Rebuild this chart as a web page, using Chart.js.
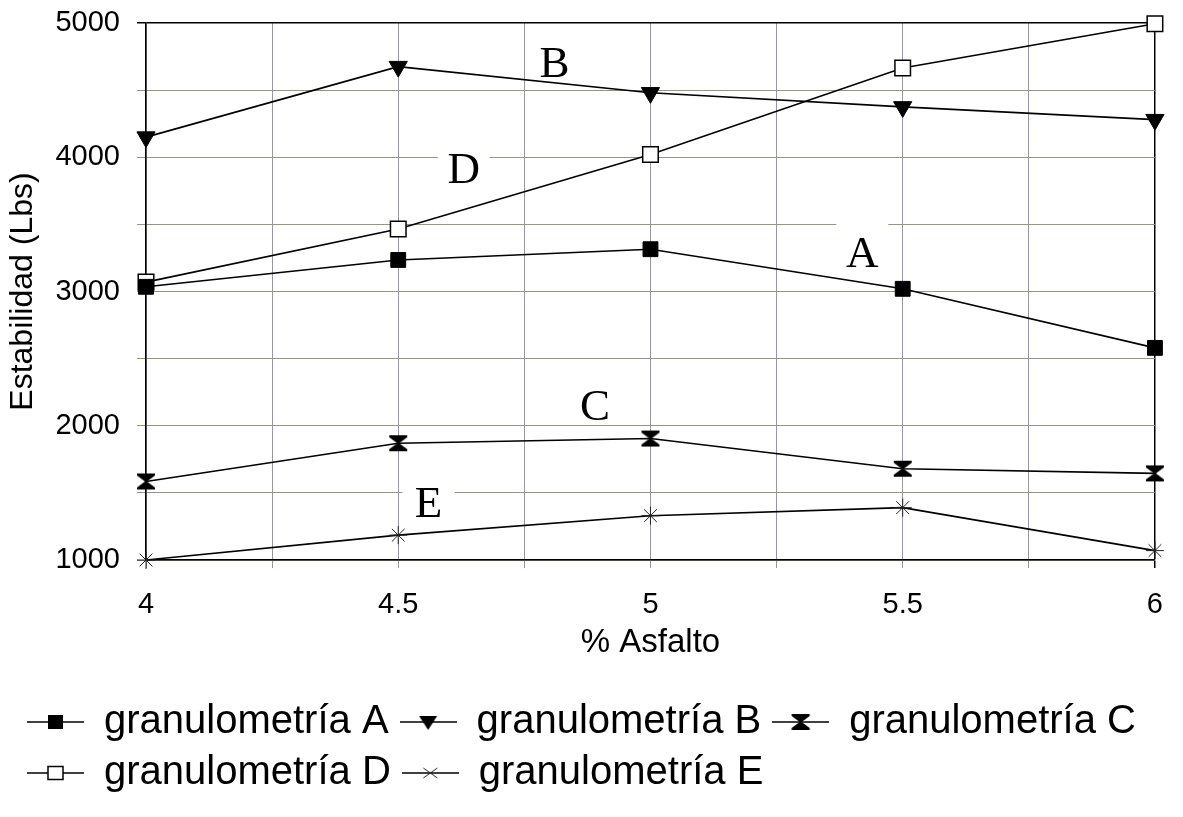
<!DOCTYPE html>
<html>
<head>
<meta charset="utf-8">
<script src="https://cdn.jsdelivr.net/npm/chart.js@4.4.1/dist/chart.umd.min.js"></script>
<style>
  body { margin: 0; background: #fff; }
  #wrap { width: 1183px; height: 817px; }
</style>
</head>
<body>
<div id="wrap"><canvas id="chart" width="1183" height="817"></canvas></div>
<script>
// % asfalto on the x axis
const asfalto = [4, 4.5, 5, 5.5, 6];

// stability (Lbs) per gradation
const granA = [3035, 3235, 3315, 3020, 2580];
const granB = [4150, 4675, 4480, 4375, 4280];
const granC = [1585, 1870, 1905, 1680, 1645];
const granD = [3070, 3465, 4020, 4665, 4995];
const granE = [1000, 1185, 1330, 1390, 1070];

const seriesNames = ['granulometría A', 'granulometría B', 'granulometría C', 'granulometría D', 'granulometría E'];

// letters written next to each curve (data units)
const curveNames = ['A', 'B', 'C', 'D', 'E'];
const nameX = [5.42, 4.81, 4.89, 4.63, 4.56];
const nameY = [3180, 4600, 2045, 3810, 1320];

const sans = '"Liberation Sans", Arial, sans-serif';

// marker shapes, drawn on a small canvas context
function drawMarker(ctx, kind, cx, cy) {
    ctx.fillStyle = '#000';
    ctx.strokeStyle = '#000';
    ctx.lineWidth = 1.5;
    if (kind === 'A') {
        ctx.fillRect(cx - 7.5, cy - 7, 15, 14);
    } else if (kind === 'B') {
        ctx.beginPath();
        ctx.moveTo(cx - 9, cy - 6);
        ctx.lineTo(cx + 9, cy - 6);
        ctx.lineTo(cx, cy + 8);
        ctx.closePath();
        ctx.fill();
    } else if (kind === 'C') {
        ctx.beginPath();
        ctx.moveTo(cx - 9, cy - 8);
        ctx.lineTo(cx + 9, cy - 8);
        ctx.lineTo(cx + 9, cy - 6);
        ctx.lineTo(cx + 1, cy);
        ctx.lineTo(cx + 9, cy + 6);
        ctx.lineTo(cx + 9, cy + 8);
        ctx.lineTo(cx - 9, cy + 8);
        ctx.lineTo(cx - 9, cy + 6);
        ctx.lineTo(cx - 1, cy);
        ctx.lineTo(cx - 9, cy - 6);
        ctx.closePath();
        ctx.fill();
    } else if (kind === 'D') {
        ctx.fillStyle = '#fff';
        ctx.fillRect(cx - 7.5, cy - 6.5, 15, 13);
        ctx.strokeRect(cx - 7.5, cy - 6.5, 15, 13);
    } else if (kind === 'E') {
        ctx.lineWidth = 1;
        ctx.strokeStyle = '#222';
        ctx.beginPath();
        ctx.moveTo(cx - 7, cy - 5); ctx.lineTo(cx + 7, cy + 5);
        ctx.moveTo(cx + 7, cy - 5); ctx.lineTo(cx - 7, cy + 5);
        ctx.stroke();
    }
}

function hourglass() {
    const c = document.createElement('canvas');
    c.width = 20;
    c.height = 18;
    drawMarker(c.getContext('2d'), 'C', 10, 9);
    return c;
}

function legendIcon(kind) {
    const c = document.createElement('canvas');
    c.width = 57;
    c.height = 22;
    const g = c.getContext('2d');
    g.strokeStyle = '#000';
    g.lineWidth = 1.6;
    g.beginPath();
    g.moveTo(0, 11);
    g.lineTo(57, 11);
    g.stroke();
    drawMarker(g, kind, 28.5, 11);
    return c;
}

const legendIcons = curveNames.map(legendIcon);

function toPoints(values) {
    return values.map((v, i) => ({ x: asfalto[i], y: v }));
}

const baseSet = {
    borderColor: '#000',
    borderWidth: 1.6,
    pointBorderColor: '#000',
    pointBackgroundColor: '#000',
    pointBorderWidth: 1,
    fill: false,
    tension: 0,
    clip: false
};

const curveLabels = {
    id: 'curveLabels',
    beforeDatasetsDraw(chart) {
        const { ctx, scales: { x, y } } = chart;
        ctx.save();
        ctx.font = '45px "Liberation Serif", "Times New Roman", serif';
        ctx.textAlign = 'center';
        ctx.textBaseline = 'alphabetic';
        curveNames.forEach((name, i) => {
            const px = x.getPixelForValue(nameX[i]);
            const py = y.getPixelForValue(nameY[i]);
            ctx.fillStyle = '#fff';
            ctx.fillRect(px - 26, py - 46, 52, 50);
            ctx.fillStyle = '#000';
            ctx.fillText(name, px, py);
        });
        ctx.restore();
    }
};

const ctx = document.getElementById('chart').getContext('2d');

new Chart(ctx, {
    type: 'line',
    data: {
        datasets: [
            { ...baseSet, label: seriesNames[0], data: toPoints(granA), pointStyle: 'rect', pointRadius: 10.5 },
            { ...baseSet, label: seriesNames[1], data: toPoints(granB), pointStyle: 'triangle', pointRotation: 180, pointRadius: 10.5 },
            { ...baseSet, label: seriesNames[2], data: toPoints(granC), pointStyle: hourglass(), pointRadius: 10 },
            { ...baseSet, label: seriesNames[3], data: toPoints(granD), pointStyle: 'rect', pointRadius: 11, pointBackgroundColor: '#fff', pointBorderWidth: 1.5 },
            { ...baseSet, label: seriesNames[4], data: toPoints(granE), pointStyle: 'star', pointRadius: 9, pointBorderColor: '#222' }
        ]
    },
    options: {
        responsive: false,
        animation: false,
        layout: { padding: { top: 23, right: 27, bottom: 14, left: 16 } },
        scales: {
            x: {
                type: 'linear',
                min: 4,
                max: 6,
                afterFit(scale) { scale.height = 131; },
                ticks: {
                    stepSize: 0.25,
                    autoSkip: false,
                    maxRotation: 0,
                    padding: 20,
                    color: '#000',
                    font: { family: sans, size: 29 },
                    callback: v => (v % 0.5 === 0 ? String(v) : '')
                },
                grid: {
                    color: c => (c.tick && c.tick.value === 6 ? '#000' : '#9696aa'),
                    lineWidth: c => (c.tick && c.tick.value === 6 ? 1.5 : 1),
                    tickLength: 8
                },
                border: { color: '#000', width: 1.5 },
                title: {
                    display: true,
                    text: '% Asfalto',
                    color: '#000',
                    font: { family: sans, size: 33 },
                    padding: { top: 4, bottom: 28 }
                }
            },
            y: {
                min: 1000,
                max: 5000,
                afterFit(scale) {
                    scale.width = 130;
                    scale.paddingTop = 10;
                    scale.paddingBottom = 10;
                },
                ticks: {
                    stepSize: 500,
                    autoSkip: false,
                    padding: 17,
                    color: '#000',
                    font: { family: sans, size: 29 },
                    callback: v => (v % 1000 === 0 ? String(v) : '')
                },
                grid: {
                    color: c => (c.tick && c.tick.value === 5000 ? '#000' : '#96967a'),
                    lineWidth: c => (c.tick && c.tick.value === 5000 ? 1.5 : 1),
                    tickLength: 9
                },
                border: { color: '#000', width: 1.5 },
                title: {
                    display: true,
                    text: 'Estabilidad (Lbs)',
                    color: '#000',
                    font: { family: sans, size: 32 },
                    padding: { top: -12, bottom: 0 }
                }
            }
        },
        plugins: {
            tooltip: { enabled: false },
            legend: {
                position: 'bottom',
                align: 'start',
                labels: {
                    usePointStyle: true,
                    pointStyleWidth: 57,
                    padding: 11,
                    color: '#000',
                    font: { family: sans, size: 40 },
                    generateLabels(chart) {
                        const items = Chart.defaults.plugins.legend.labels.generateLabels(chart);
                        items.forEach((item, i) => {
                            item.pointStyle = legendIcons[i];
                            item.rotation = 0;
                        });
                        return items;
                    }
                }
            }
        }
    },
    plugins: [curveLabels]
});
</script>
</body>
</html>
